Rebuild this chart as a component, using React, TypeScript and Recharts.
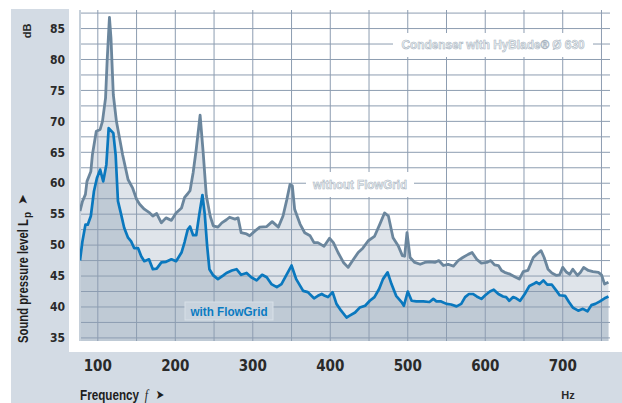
import React from 'react';
import { ComposedChart, Area, Line, XAxis, YAxis, ReferenceLine } from 'recharts';

// Frequency (Hz) / level (dB) of the curve "without FlowGrid"
const withoutFreq = [77, 80, 84, 86, 91, 93, 98, 103, 106, 110, 112, 115, 117, 120, 124, 128, 132, 139, 145, 150, 154, 160, 167, 171, 176, 182, 188, 195, 201, 208, 212, 216, 219, 223, 227, 232, 236, 240, 245, 249, 255, 260, 266, 270, 277, 281, 285, 292, 296, 303, 309, 318, 325, 333, 339, 344, 348, 351, 354, 361, 367, 374, 379, 384, 392, 399, 404, 410, 417, 423, 430, 436, 442, 449, 457, 464, 470, 475, 481, 488, 493, 496, 499, 503, 509, 516, 522, 528, 535, 540, 546, 552, 559, 565, 571, 578, 583, 589, 595, 602, 607, 612, 617, 621, 625, 632, 638, 644, 649, 655, 662, 667, 672, 676, 681, 686, 692, 696, 700, 705, 709, 713, 719, 723, 727, 733, 739, 746, 750, 754, 759];
const withoutLevel = [55.5, 57.0, 58.2, 60.3, 61.9, 64.6, 68.4, 68.7, 70.0, 73.8, 79.7, 86.8, 83.4, 74.3, 70.0, 67.3, 64.6, 60.6, 59.2, 57.4, 56.6, 55.8, 55.2, 54.7, 55.1, 53.6, 54.4, 54.0, 55.2, 56.0, 57.7, 58.3, 58.8, 61.7, 65.5, 71.0, 64.9, 58.0, 54.7, 53.1, 52.9, 53.6, 54.1, 54.5, 54.2, 54.4, 52.0, 51.8, 51.5, 52.3, 52.9, 53.0, 53.8, 52.9, 54.7, 57.4, 59.8, 59.6, 55.8, 53.4, 52.0, 51.5, 50.4, 50.4, 49.8, 51.1, 50.4, 48.8, 47.2, 46.4, 47.7, 48.8, 49.5, 50.7, 51.4, 53.4, 55.2, 54.7, 51.2, 49.8, 48.3, 48.2, 52.0, 48.0, 47.2, 46.9, 47.2, 47.3, 47.2, 47.5, 46.7, 46.9, 46.6, 47.5, 48.0, 48.5, 48.8, 47.7, 47.1, 47.2, 47.5, 46.8, 46.7, 45.9, 45.6, 45.3, 44.9, 44.5, 45.7, 45.9, 48.0, 48.6, 49.1, 48.0, 46.1, 45.5, 45.1, 45.2, 46.4, 45.6, 45.3, 46.1, 45.1, 45.6, 46.4, 45.9, 45.7, 45.6, 45.2, 43.7, 44.0];

// Frequency (Hz) / level (dB) of the curve "with FlowGrid"
const withFreq = [77, 80, 84, 87, 91, 95, 99, 103, 107, 111, 114, 120, 123, 126, 130, 134, 139, 143, 147, 152, 156, 160, 166, 171, 176, 182, 188, 195, 201, 208, 212, 216, 219, 223, 227, 231, 235, 238, 241, 244, 249, 255, 262, 266, 273, 279, 285, 292, 298, 305, 312, 318, 324, 331, 337, 344, 350, 356, 365, 371, 379, 384, 389, 393, 397, 403, 408, 414, 421, 425, 432, 438, 445, 451, 457, 463, 468, 474, 479, 485, 492, 495, 500, 505, 511, 520, 528, 533, 537, 543, 550, 556, 563, 569, 574, 579, 584, 589, 595, 600, 606, 611, 617, 623, 627, 631, 636, 640, 645, 651, 657, 662, 666, 670, 675, 680, 686, 692, 696, 703, 708, 713, 720, 726, 732, 737, 742, 748, 754, 759];
const withLevel = [47.5, 50.5, 53.3, 53.3, 54.7, 58.7, 60.9, 62.2, 60.3, 63.0, 68.9, 68.1, 64.6, 57.1, 55.0, 52.8, 51.2, 50.6, 49.5, 49.5, 48.2, 47.4, 47.7, 46.1, 46.2, 47.2, 47.3, 47.7, 47.4, 48.8, 50.5, 52.5, 53.0, 51.6, 51.6, 55.0, 58.1, 55.0, 50.0, 46.1, 45.1, 44.5, 45.1, 45.5, 45.9, 46.1, 45.2, 45.5, 44.8, 44.3, 45.2, 44.8, 43.7, 43.2, 43.7, 45.3, 46.7, 44.5, 42.6, 42.4, 41.4, 41.8, 42.1, 41.8, 41.6, 42.4, 40.5, 39.4, 38.3, 38.6, 39.1, 39.9, 40.2, 41.0, 41.6, 42.9, 44.5, 45.6, 43.7, 41.8, 40.8, 40.2, 42.5, 41.0, 40.9, 40.9, 40.8, 41.3, 40.9, 40.9, 40.5, 40.4, 40.1, 40.5, 41.6, 42.1, 42.1, 41.7, 41.3, 41.9, 42.5, 42.8, 42.1, 41.7, 41.6, 41.0, 41.6, 41.4, 41.0, 42.1, 43.4, 43.7, 44.0, 43.7, 44.3, 43.6, 43.6, 42.6, 41.9, 41.8, 40.8, 39.9, 39.4, 39.7, 39.3, 40.3, 40.5, 40.9, 41.4, 41.7];

const xTicks = [100, 200, 300, 400, 500, 600, 700];
const yTicks = [35, 40, 45, 50, 55, 60, 65, 70, 75, 80, 85];
const xGrid = [100, 150, 200, 250, 300, 350, 400, 450, 500, 550, 600, 650, 700, 750];
const yGrid = [35, 37.5, 40, 42.5, 45, 47.5, 50, 52.5, 55, 57.5, 60, 62.5, 65, 67.5, 70, 72.5, 75, 77.5, 80, 82.5, 85, 87.5];

const withoutData = withoutFreq.map((f, i) => ({ f, v: withoutLevel[i] }));
const withData = withFreq.map((f, i) => ({ f, v: withLevel[i] }));

const FONT = '"Liberation Sans Narrow", "DejaVu Sans Condensed", "Roboto Condensed", "Liberation Sans", Arial, sans-serif';
const TFONT = '"Liberation Sans", Arial, sans-serif';
const GRID = '#8d9db1';

export default function App() {
  return (
    <div style={{ position: 'absolute', left: 0, top: 0, width: 622, height: 403, background: '#fff', overflow: 'hidden' }}>
      <div style={{ position: 'absolute', left: 11, top: 9, width: 611, height: 394, background: '#d3dbe4' }} />
      <div style={{ position: 'absolute', left: 69, top: 9, width: 553, height: 343, background: '#ffffff' }} />
      <div style={{ position: 'absolute', left: 0, top: 0 }}>
        <ComposedChart width={622} height={403} margin={{ top: 10, right: 12, bottom: 32, left: 66 }}>
          <XAxis
            dataKey="f"
            type="number"
            domain={[77, 761]}
            ticks={xTicks}
            allowDataOverflow
            axisLine={false}
            tickLine={false}
            tickSize={0}
            tickMargin={19}
            height={30}
            tick={{ fill: '#2a2a2a', fontSize: 15, fontFamily: FONT, fontWeight: 700 }}
          />
          <YAxis
            type="number"
            domain={[34.5, 88]}
            ticks={yTicks}
            allowDataOverflow
            axisLine={false}
            tickLine={false}
            tickSize={0}
            tickMargin={15}
            width={14}
            tick={{ fill: '#2a2a2a', fontSize: 12, fontFamily: FONT, fontWeight: 700 }}
          />
          <Area data={withoutData} dataKey="v" type="linear" stroke="none" fill="#dfe4ea" fillOpacity={1} baseValue="dataMin" isAnimationActive={false} zIndex={100} />
          <Area data={withData} dataKey="v" type="linear" stroke="none" fill="#bfcad5" fillOpacity={1} baseValue="dataMin" isAnimationActive={false} zIndex={101} />
          {yGrid.map((v) => (
            <ReferenceLine key={'h' + v} y={v} stroke={GRID} strokeWidth={1} zIndex={200} />
          ))}
          {xGrid.map((v) => (
            <ReferenceLine key={'v' + v} x={v} stroke={GRID} strokeWidth={1} zIndex={200} />
          ))}
          <ReferenceLine x={77} stroke="#c6d0da" strokeWidth={2} zIndex={200} />
          <Line data={withoutData} dataKey="v" type="linear" stroke="#6b869d" strokeWidth={2.8} dot={false} strokeLinejoin="round" isAnimationActive={false} zIndex={300} />
          <Line data={withData} dataKey="v" type="linear" stroke="#0a78be" strokeWidth={2.7} dot={false} strokeLinejoin="round" isAnimationActive={false} zIndex={301} />
        </ComposedChart>
      </div>
      <svg width={622} height={403} style={{ position: 'absolute', left: 0, top: 0, pointerEvents: 'none' }}>
        <rect x={393} y={33} width={200} height={24} fill="#ffffff" />
        <text x={493} y={49} textAnchor="middle" fontFamily={TFONT} fontWeight={700} fontSize={13} fill="#eef1f4" stroke="#a9b5c1" strokeWidth={0.6} textLength={183} lengthAdjust="spacingAndGlyphs">
          Condenser with HyBlade® Ø 630
        </text>
        <rect x={306} y={172} width={108} height={25} fill="#ffffff" />
        <text x={360} y={189} textAnchor="middle" fontFamily={TFONT} fontWeight={700} fontSize={13} fill="#eef1f4" stroke="#a9b5c1" strokeWidth={0.6} textLength={94} lengthAdjust="spacingAndGlyphs">
          without FlowGrid
        </text>
        <rect x={185} y={302} width={88} height={18} fill="#c9d3dd" stroke="#d8e0e8" strokeWidth={1} />
        <text x={229} y={316} textAnchor="middle" fontFamily={TFONT} fontWeight={700} fontSize={13} fill="#0a7bc2" textLength={77} lengthAdjust="spacingAndGlyphs">
          with FlowGrid
        </text>
        <text transform="translate(31,31) rotate(-90)" textAnchor="middle" fontFamily={TFONT} fontWeight={700} fontSize={11} fill="#2a2a2a">
          dB
        </text>
        <g transform="translate(28,0) rotate(-90)">
          <text x={-343} y={0} fontFamily={TFONT} fontWeight={700} fontSize={15} fill="#1e1e1e" textLength={124} lengthAdjust="spacingAndGlyphs">
            Sound pressure level L
          </text>
          <text x={-218} y={3} fontFamily={TFONT} fontWeight={700} fontSize={10} fill="#1e1e1e">
            p
          </text>
          <text x={-205} y={-1} fontFamily="DejaVu Sans" fontSize={13} fill="#1e1e1e">
            ➤
          </text>
        </g>
        <text transform="translate(80,400) scale(0.78,1)" x={0} y={0} fill="#1e1e1e" fontFamily={TFONT} fontWeight={700} fontSize={15}>
          <tspan>Frequency</tspan>
          <tspan x={83} fontFamily='"Liberation Serif", "DejaVu Serif", serif' fontStyle="italic" fontWeight={400}>f</tspan>
          <tspan x={97} y={-1} fontFamily="DejaVu Sans" fontWeight={400} fontSize={13}>➤</tspan>
        </text>
        <text x={568} y={399} textAnchor="middle" fontFamily={TFONT} fontWeight={700} fontSize={11} fill="#2a2a2a">
          Hz
        </text>
      </svg>
    </div>
  );
}
